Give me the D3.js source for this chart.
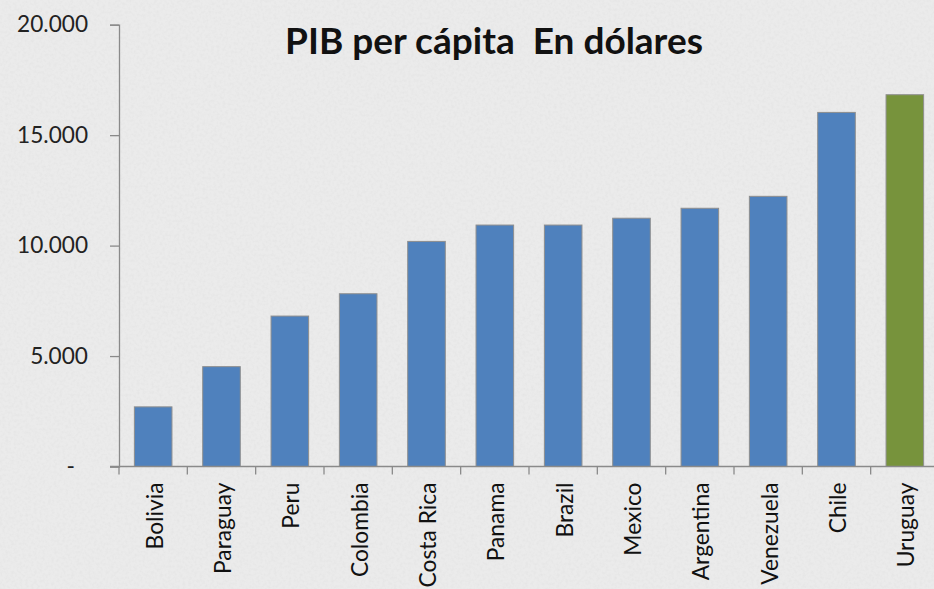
<!DOCTYPE html>
<html>
<head>
<meta charset="utf-8">
<script src="https://cdn.jsdelivr.net/npm/d3@7"></script>
<style>
  html, body { margin: 0; padding: 0; background: #ebebeb; }
  svg { display: block; }
</style>
</head>
<body>
<svg id="chart" width="934" height="589"></svg>
<script>
const categories = ["Bolivia", "Paraguay", "Peru", "Colombia", "Costa Rica", "Panama", "Brazil", "Mexico", "Argentina", "Venezuela", "Chile", "Uruguay"];
const values = [2700, 4520, 6810, 7820, 10190, 10930, 10930, 11240, 11690, 12230, 16030, 16830];
const highlight = ["Uruguay"];
const yTicks = [0, 5000, 10000, 15000, 20000];
const yTickLabels = ["-\u2007", "5.000", "10.000", "15.000", "20.000"];
const title = "PIB per cápita  En dólares";

const W = 934, H = 589;
const FONT = "Lato, 'Open Sans', sans-serif";
const svg = d3.select("#chart");

// textured paper background
const defs = svg.append("defs");
const f = defs.append("filter").attr("id", "paper").attr("x", 0).attr("y", 0).attr("width", "100%").attr("height", "100%");
f.append("feTurbulence").attr("type", "fractalNoise").attr("baseFrequency", "0.35").attr("numOctaves", 2).attr("seed", 3).attr("result", "n");
f.append("feColorMatrix").attr("type", "matrix")
  .attr("values", "0 0 0 0 0.5  0 0 0 0 0.5  0 0 0 0 0.5  0 0 0 -0.9 0.55");
svg.append("rect").attr("width", W).attr("height", H).attr("fill", "#ebebeb");
svg.append("rect").attr("width", W).attr("height", H).attr("filter", "url(#paper)").attr("opacity", 0.25);

// helper: font size so that a sample text reaches a target length
function fitSize(sample, family, weight, base, target) {
  const t = svg.append("text").style("font-family", family).style("font-weight", weight)
    .style("font-size", base + "px").style("white-space", "pre").text(sample);
  const len = t.node().getComputedTextLength();
  t.remove();
  return len > 0 ? base * target / len : base;
}

const x = d3.scaleBand().domain(categories).range([119, 939]).paddingInner(0.45).paddingOuter(0.225);
const y = d3.scaleLinear().domain([0, 20000]).range([466.5, 24.7]);

// bars
svg.append("g").selectAll("rect").data(categories).join("rect")
  .attr("x", d => x(d))
  .attr("width", x.bandwidth())
  .attr("y", (d, i) => y(values[i]))
  .attr("height", (d, i) => y(0) - y(values[i]))
  .attr("fill", d => highlight.includes(d) ? "#77933c" : "#4f81bd")
  .attr("stroke", "#8e8e8e")
  .attr("stroke-width", 1);

// y axis
const tickSize = fitSize("20.000", FONT, "normal", 22, 71);
const yAxis = d3.axisLeft(y).tickValues(yTicks)
  .tickFormat((d, i) => yTickLabels[i]).tickSize(9).tickPadding(22);
const gy = svg.append("g").attr("transform", "translate(119,0)").call(yAxis);
gy.select(".domain").attr("stroke", "#8a8a8a").attr("stroke-width", 1.3);
gy.selectAll(".tick line").attr("stroke", "#8a8a8a").attr("stroke-width", 1.3);
gy.selectAll(".tick text").attr("fill", "#222").style("font-family", FONT).style("font-size", tickSize + "px");

// x axis
const labelSize = fitSize("Costa Rica", FONT, "normal", 22, 105);
const xAxis = d3.axisBottom(x).tickSize(0).tickPadding(0);
const gx = svg.append("g").attr("transform", `translate(0,${y(0)})`).call(xAxis);
gx.select(".domain").remove();
gx.append("line").attr("x1", 110).attr("x2", 939).attr("y1", 0).attr("y2", 0)
  .attr("stroke", "#8a8a8a").attr("stroke-width", 1.3);
const step = x.step();
gx.selectAll(".sep").data(d3.range(categories.length + 1)).join("line")
  .attr("class", "sep")
  .attr("x1", i => 119 + i * step).attr("x2", i => 119 + i * step)
  .attr("y1", 0).attr("y2", 8)
  .attr("stroke", "#8a8a8a").attr("stroke-width", 1.3);
gx.selectAll(".tick text")
  .attr("transform", "rotate(-90)")
  .attr("text-anchor", "end")
  .attr("x", -16).attr("y", 0).attr("dy", "0.42em")
  .attr("fill", "#111")
  .style("font-family", FONT).style("font-size", labelSize + "px");

// title
const titleSize = fitSize(title, FONT, "bold", 29, 418);
svg.append("text").attr("x", 494).attr("y", 54).attr("text-anchor", "middle")
  .attr("fill", "#111")
  .style("white-space", "pre")
  .style("font-family", FONT).style("font-weight", "bold").style("font-size", titleSize + "px")
  .text(title);
</script>
</body>
</html>
